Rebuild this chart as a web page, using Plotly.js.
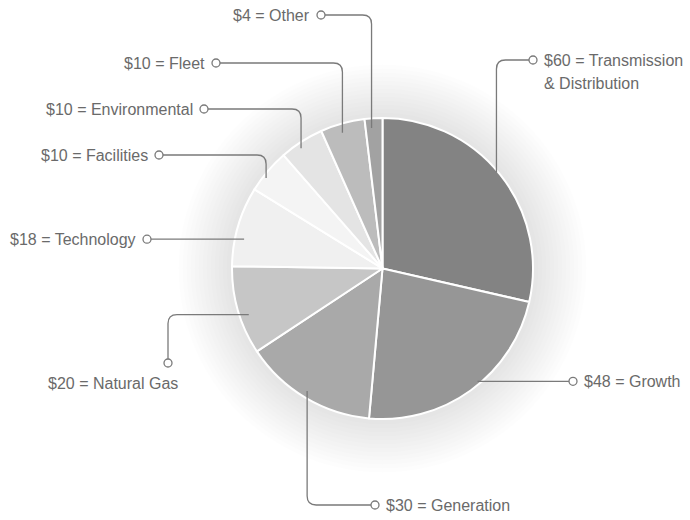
<!DOCTYPE html>
<html><head><meta charset="utf-8">
<script src="https://cdn.plot.ly/plotly-3.0.1.min.js"></script>
<style>html,body{margin:0;padding:0;background:#fff}#chart{width:690px;height:520px}</style>
</head><body><div id="chart"></div>
<script>
// ---- data ----
const categories = ["Transmission & Distribution","Growth","Generation","Natural Gas","Technology","Facilities","Environmental","Fleet","Other"];
const values = [60, 48, 30, 20, 18, 10, 10, 10, 4];
const labelLines = [["$60 = Transmission","& Distribution"],["$48 = Growth"],["$30 = Generation"],["$20 = Natural Gas"],["$18 = Technology"],["$10 = Facilities"],["$10 = Environmental"],["$10 = Fleet"],["$4 = Other"]];

// ---- style / layout ----
const sliceColors = ["#838383","#969696","#a9a9a9","#c6c6c6","#f0f0f0","#f4f4f4","#e4e4e4","#bcbcbc","#a2a2a2"];
const W = 690, H = 520;
const pieGeom = {cx: 382.5, cy: 268.5, r: 150.5};
// t: position along slice (0..1), f: radial fraction for leader start
const leaders = [
  {kind:'v',  t:0.485, f:0.99,  row:60,  end:533, side:'right'},
  {kind:'h',  t:0.45,  f:0.98,  end:573, side:'right'},
  {kind:'v',  t:0.515, f:0.955, row:505, end:375, side:'right'},
  {kind:'hv', t:0.42,  f:0.94,  col:168, end:363, side:'below'},
  {kind:'h',  t:0.36,  f:0.94,  end:147, side:'left'},
  {kind:'v',  t:0.36,  f:0.98,  row:155, end:159, side:'left'},
  {kind:'v',  t:0.41,  f:0.965, row:109, end:204, side:'left'},
  {kind:'v',  t:0.44,  f:0.94,  row:63,  end:216, side:'left'},
  {kind:'v',  t:0.35,  f:0.936, row:15,  end:321, side:'left'}
];
const lineColor = "#7a7a7a";
const textColor = "#6a6a6a";
const font = {family: "Liberation Sans, Arial, sans-serif", size: 16, color: textColor};
const rc = 9; // corner radius
const haloRadii = [204,200,196,192,188,184,180,176,172,168,164,160,156];

const total = values.reduce((a,b)=>a+b,0);
let cum = 0;
const shapes = [];
const annotations = [];

// halo
haloRadii.forEach(R => {
  shapes.push({type:'circle', xref:'x', yref:'y', layer:'below',
    x0:pieGeom.cx-R, x1:pieGeom.cx+R, y0:pieGeom.cy-R, y1:pieGeom.cy+R,
    fillcolor:'rgba(0,0,0,0.0085)', line:{width:0}});
});

values.forEach((v,i) => {
  const a0 = cum/total*360; cum += v; const a1 = cum/total*360;
  const L = leaders[i];
  const ang = (a0 + (a1-a0)*L.t) * Math.PI/180;
  const ax = pieGeom.cx + L.f*pieGeom.r*Math.sin(ang);
  const ay = pieGeom.cy - L.f*pieGeom.r*Math.cos(ang);
  let path, ex, ey;
  if (L.kind === 'v') {
    const sy = Math.sign(L.row - ay), sx = Math.sign(L.end - ax);
    path = `M${ax},${ay} L${ax},${L.row - sy*rc} Q${ax},${L.row} ${ax+sx*rc},${L.row} L${L.end},${L.row}`;
    ex = L.end; ey = L.row;
  } else if (L.kind === 'h') {
    path = `M${ax},${ay} L${L.end},${ay}`;
    ex = L.end; ey = ay;
  } else {
    const sx = Math.sign(L.col - ax), sy = Math.sign(L.end - ay);
    path = `M${ax},${ay} L${L.col - sx*rc},${ay} Q${L.col},${ay} ${L.col},${ay+sy*rc} L${L.col},${L.end}`;
    ex = L.col; ey = L.end;
  }
  shapes.push({type:'path', xref:'x', yref:'y', layer:'above', path:path, line:{color:lineColor, width:1.3}});
  shapes.push({type:'circle', xref:'x', yref:'y', layer:'above', x0:ex-4, x1:ex+4, y0:ey-4, y1:ey+4,
    fillcolor:'#ffffff', line:{color:lineColor, width:1.3}});
  const lines = labelLines[i];
  lines.forEach((txt, k) => {
    let ann = {text: txt, showarrow:false, xref:'x', yref:'y', font: font, yanchor:'middle'};
    if (L.side === 'left') { ann.x = ex - 9; ann.xanchor = 'right'; ann.y = ey + k*23; }
    else if (L.side === 'right') { ann.x = ex + 9; ann.xanchor = 'left'; ann.y = ey + k*23; }
    else { ann.x = ex + 12; ann.xanchor = 'right'; ann.y = ey + 20 + k*23; }
    annotations.push(ann);
  });
});

const pieTrace = {
  type:'pie', labels: categories, values: values, sort:false, direction:'clockwise', rotation:0,
  marker:{colors: sliceColors, line:{color:'#ffffff', width:2}},
  textinfo:'none', hoverinfo:'none', showlegend:false,
  domain:{x:[(pieGeom.cx-pieGeom.r)/W, (pieGeom.cx+pieGeom.r)/W], y:[(H-pieGeom.cy-pieGeom.r)/H, (H-pieGeom.cy+pieGeom.r)/H]}
};
const dummy = {type:'scatter', x:[0], y:[0], mode:'markers', marker:{opacity:0}, showlegend:false, hoverinfo:'skip'};

const layout = {
  width: W, height: H, margin:{l:0,r:0,t:0,b:0},
  paper_bgcolor:'#ffffff', plot_bgcolor:'rgba(0,0,0,0)',
  xaxis:{range:[0,W], visible:false, fixedrange:true},
  yaxis:{range:[H,0], visible:false, fixedrange:true},
  shapes: shapes, annotations: annotations, showlegend:false
};
Plotly.newPlot('chart', [dummy, pieTrace], layout, {displayModeBar:false, staticPlot:true});
</script>
</body></html>
